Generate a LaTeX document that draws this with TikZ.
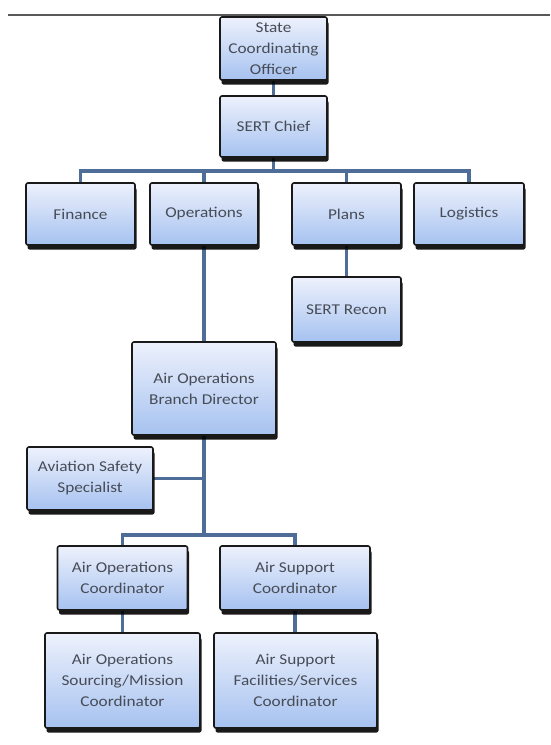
\documentclass[tikz,border=0pt]{standalone}
\usepackage{fontspec}
\setmainfont[FakeStretch=1.15]{Carlito}
\usetikzlibrary{shadows,backgrounds}
\definecolor{boxtop}{HTML}{EDF1FC}
\definecolor{boxbot}{HTML}{A6C2F0}
\definecolor{linkc}{HTML}{4E6D97}
\definecolor{txt}{HTML}{474C56}
\begin{document}
\begin{tikzpicture}[x=1pt,y=-1pt,
 orgbox/.style={draw=black!90, line width=1.6pt, rounded corners=2pt, top color=boxtop, bottom color=boxbot, align=center, text=txt, font=\fontsize{15}{21}\selectfont, inner sep=2pt, drop shadow={shadow xshift=1.5pt, shadow yshift=-4.5pt, fill=black, opacity=0.9}},
 link/.style={draw=linkc, line width=3.5pt}]
\useasboundingbox (0,0) rectangle (550,745);
\node[orgbox, minimum width=107pt, minimum height=63pt] (sco) at (273.5,48.5) {State\\Coordinating\\Officer};
\node[orgbox, minimum width=107pt, minimum height=61pt] (chief) at (273.5,126.5) {SERT Chief};
\node[orgbox, minimum width=109pt, minimum height=62pt] (fin) at (80.5,214) {Finance};
\node[orgbox, minimum width=108pt, minimum height=62pt] (ops) at (204,214) {Operations};
\node[orgbox, minimum width=109pt, minimum height=62pt] (plans) at (346.5,214) {Plans};
\node[orgbox, minimum width=110pt, minimum height=62pt] (log) at (469,214) {Logistics};
\node[orgbox, minimum width=109pt, minimum height=65pt] (recon) at (346.5,309.5) {SERT Recon};
\node[orgbox, minimum width=144pt, minimum height=93pt] (aobd) at (204,388.5) {Air Operations\\Branch Director};
\node[orgbox, minimum width=126pt, minimum height=63pt] (avs) at (90,478.5) {Aviation Safety\\Specialist};
\node[orgbox, minimum width=130pt, minimum height=64pt] (aoc) at (122.5,578) {Air Operations\\Coordinator};
\node[orgbox, minimum width=150pt, minimum height=64pt] (asc) at (295,578) {Air Support\\Coordinator};
\node[orgbox, minimum width=155pt, minimum height=95pt] (aosm) at (122.5,680.5) {Air Operations\\Sourcing/Mission\\Coordinator};
\node[orgbox, minimum width=163pt, minimum height=95pt] (asfs) at (295.5,680.5) {Air Support\\Facilities/Services\\Coordinator};
\coordinate (tl) at (8,15);
\coordinate (tr) at (550,15);
\coordinate (b1) at (273.5,171);
\coordinate (b2) at (204,535);
\begin{scope}[on background layer]
\fill[white] (0,0) rectangle (550,745);
\draw[link] (sco.south) -- (chief.north);
\draw[link] (chief.south) -- (b1);
\draw[link] (fin.north) |- (b1) -| (log.north);
\draw[link] (ops.north) -- (ops.north |- b1);
\draw[link] (plans.north) -- (plans.north |- b1);
\draw[link] (ops.south) -- (aobd.north);
\draw[link] (plans.south) -- (recon.north);
\draw[link] (avs.east) -- (avs.east -| aobd.south);
\draw[link] (aobd.south) -- (b2);
\draw[link] (aoc.north) |- (b2) -| (asc.north);
\draw[link] (aoc.south) -- (aosm.north);
\draw[link] (asc.south) -- (asc.south |- asfs.north);
\end{scope}
\draw[line width=2.5pt, black!65] (tl) -- (tr);
\end{tikzpicture}
\end{document}
